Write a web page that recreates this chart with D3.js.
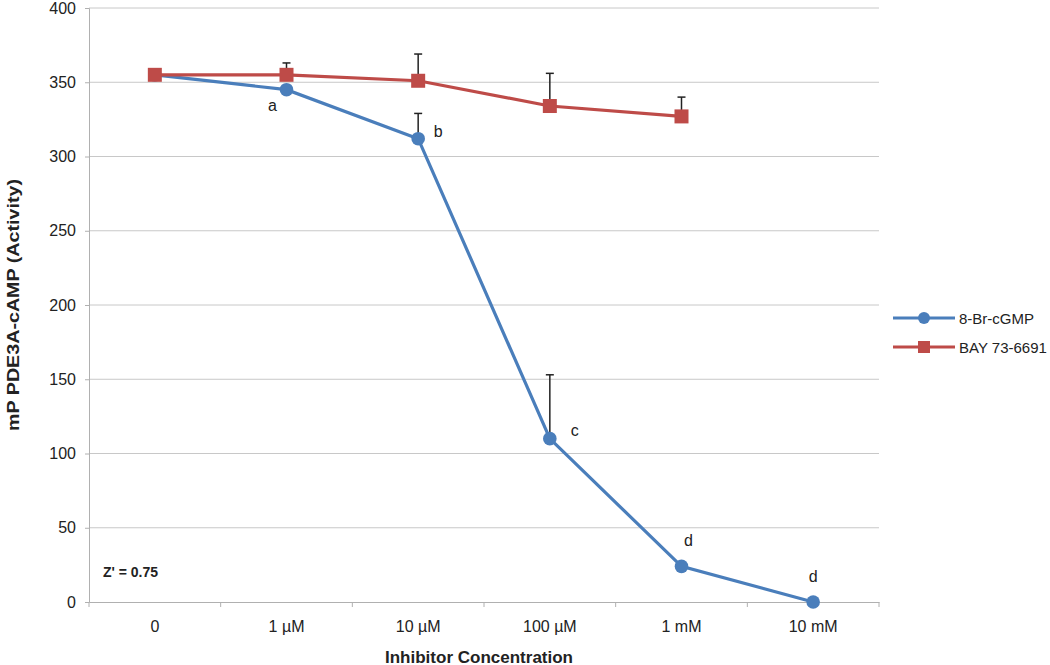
<!DOCTYPE html>
<html>
<head>
<meta charset="utf-8">
<script src="https://cdn.jsdelivr.net/npm/d3@7"></script>
<style>
  body { margin: 0; background: #fff; }
  text { font-family: "Liberation Sans", Arial, sans-serif; }
</style>
</head>
<body>
<div id="chart"></div>
<script>
// data
const categories = ['0', '1 µM', '10 µM', '100 µM', '1 mM', '10 mM'];
const brValues = [355, 345, 312, 110, 24, 0];
const brErrors = [0, 0, 17, 43, 0, 0];
const brLabels = ['', 'a', 'b', 'c', 'd', 'd'];
const bayValues = [355, 355, 351, 334, 327, null];
const bayErrors = [0, 8, 18, 22, 13, 0];
const yTicks = [0, 50, 100, 150, 200, 250, 300, 350, 400];

const W = 1050, H = 665;
const margin = { top: 8, right: 171, bottom: 63, left: 89 };
const width = W - margin.left - margin.right,
    height = H - margin.top - margin.bottom;

const blue = '#4a7ebb', red = '#be4b48';

const svg = d3.select('#chart')
    .append('svg')
    .attr('width', W)
    .attr('height', H)
    .append('g')
    .attr('transform', `translate(${margin.left}, ${margin.top})`);

const x = d3.scaleBand().domain(categories).range([0, width]);
const y = d3.scaleLinear().domain([0, 400]).range([height, 0]);

// gridlines
svg.append('g')
    .selectAll('line')
    .data(yTicks.filter(d => d > 0))
    .enter()
    .append('line')
    .attr('x1', 0).attr('x2', width)
    .attr('y1', d => y(d)).attr('y2', d => y(d))
    .style('stroke', '#c8c8c8');

// y axis
const yAxis = svg.append('g')
    .call(d3.axisLeft(y).tickValues(yTicks).tickSize(4).tickPadding(9));
yAxis.select('.domain').style('stroke', '#b0b0b0');
yAxis.selectAll('.tick line').style('stroke', '#b0b0b0');
yAxis.selectAll('text').style('font-size', '16px').style('fill', '#222');

// x axis, ticks on category boundaries
const xAxis = svg.append('g')
    .attr('transform', `translate(0, ${height})`)
    .call(d3.axisBottom(x).tickSize(0).tickPadding(19));
xAxis.select('.domain').style('stroke', '#b0b0b0');
xAxis.selectAll('text').style('font-size', '16px').style('fill', '#222');
svg.append('g')
    .selectAll('line')
    .data(d3.range(categories.length + 1))
    .enter()
    .append('line')
    .attr('x1', i => i * x.bandwidth()).attr('x2', i => i * x.bandwidth())
    .attr('y1', height).attr('y2', height + 5)
    .style('stroke', '#b0b0b0');

const cx = i => x(categories[i]) + x.bandwidth() / 2;

function drawSeries(values, errors, color, shape) {
    const pts = values.map((v, i) => ({ i, v, e: errors[i] })).filter(d => d.v !== null);

    // error bars (upper only)
    const eb = pts.filter(d => d.e > 0);
    svg.append('g').selectAll('line')
        .data(eb).enter().append('line')
        .attr('x1', d => cx(d.i)).attr('x2', d => cx(d.i))
        .attr('y1', d => y(d.v)).attr('y2', d => y(d.v + d.e))
        .style('stroke', '#222').style('stroke-width', 1.5);
    svg.append('g').selectAll('line')
        .data(eb).enter().append('line')
        .attr('x1', d => cx(d.i) - 4).attr('x2', d => cx(d.i) + 4)
        .attr('y1', d => y(d.v + d.e)).attr('y2', d => y(d.v + d.e))
        .style('stroke', '#222').style('stroke-width', 1.5);

    const line = d3.line().x(d => cx(d.i)).y(d => y(d.v));
    svg.append('path')
        .datum(pts)
        .attr('d', line)
        .style('fill', 'none')
        .style('stroke', color)
        .style('stroke-width', 3.2);

    if (shape === 'circle') {
        svg.append('g').selectAll('circle')
            .data(pts).enter().append('circle')
            .attr('cx', d => cx(d.i)).attr('cy', d => y(d.v))
            .attr('r', 6.8)
            .style('fill', color);
    } else {
        svg.append('g').selectAll('rect')
            .data(pts).enter().append('rect')
            .attr('x', d => cx(d.i) - 7).attr('y', d => y(d.v) - 7)
            .attr('width', 14).attr('height', 14)
            .style('fill', color);
    }
}

drawSeries(brValues, brErrors, blue, 'circle');
drawSeries(bayValues, bayErrors, red, 'square');

// letter annotations
const labelOffset = [null, [-14, 21], [20, -2], [25, -3], [7, -20], [0, -20]];
svg.append('g').selectAll('text')
    .data(brLabels.map((t, i) => ({ t, i })).filter(d => d.t))
    .enter().append('text')
    .attr('x', d => cx(d.i) + labelOffset[d.i][0])
    .attr('y', d => y(brValues[d.i]) + labelOffset[d.i][1])
    .attr('text-anchor', 'middle')
    .style('font-size', '16px')
    .style('fill', '#222')
    .text(d => d.t);

// Z' annotation
svg.append('text')
    .attr('x', 14).attr('y', y(17))
    .style('font-size', '14px').style('font-weight', 'bold').style('fill', '#222')
    .text("Z' = 0.75");

// axis titles
svg.append('text')
    .attr('x', width / 2 - 5).attr('y', height + 61)
    .attr('text-anchor', 'middle')
    .attr('textLength', 188).attr('lengthAdjust', 'spacingAndGlyphs')
    .style('font-size', '16px').style('font-weight', 'bold').style('fill', '#222')
    .text('Inhibitor Concentration');

svg.append('text')
    .attr('transform', `translate(${-70}, ${height / 2}) rotate(-90)`)
    .attr('text-anchor', 'middle')
    .attr('textLength', 252).attr('lengthAdjust', 'spacingAndGlyphs')
    .style('font-size', '16px').style('font-weight', 'bold').style('fill', '#222')
    .text('mP PDE3A-cAMP (Activity)');

// legend
const legend = svg.append('g')
    .attr('transform', `translate(${width + 14}, ${310})`);
const legendItems = [
    { name: '8-Br-cGMP', color: blue, shape: 'circle' },
    { name: 'BAY 73-6691', color: red, shape: 'square' }
];
legendItems.forEach((d, i) => {
    const g = legend.append('g').attr('transform', `translate(0, ${i * 29})`);
    g.append('line').attr('x1', 0).attr('x2', 62)
        .style('stroke', d.color).style('stroke-width', 3.2);
    if (d.shape === 'circle') {
        g.append('circle').attr('cx', 31).attr('r', 6).style('fill', d.color);
    } else {
        g.append('rect').attr('x', 25).attr('y', -6).attr('width', 12).attr('height', 12)
            .style('fill', d.color);
    }
    g.append('text').attr('x', 66).attr('y', 6)
        .style('font-size', '15px').style('fill', '#222')
        .text(d.name);
});
</script>
</body>
</html>
